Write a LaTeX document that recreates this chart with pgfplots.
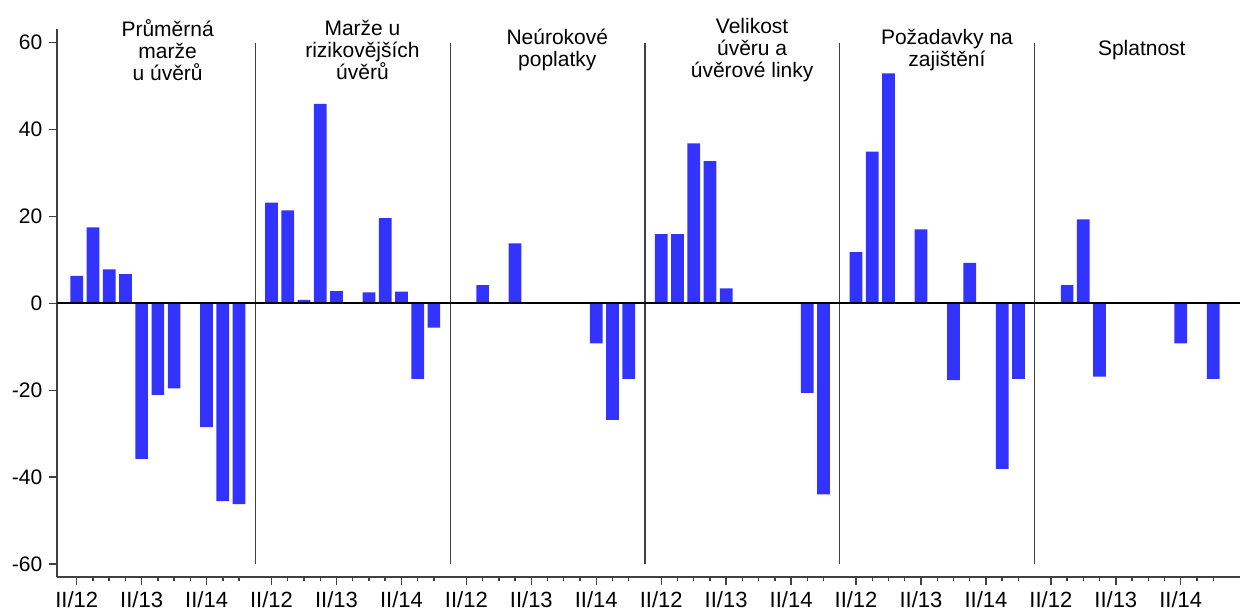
\documentclass[border=0pt]{standalone}
\usepackage{pgfplots}
\pgfplotsset{compat=1.18}
\usepackage{fontspec}
\setmainfont{Liberation Sans}
\definecolor{barblue}{RGB}{51,51,255}
\definecolor{axgray}{RGB}{64,64,64}
\begin{document}
\begin{tikzpicture}
\path[use as bounding box] (-28.65pt,-17.65pt) rectangle (591.35pt,288.35pt);
\begin{axis}[
  at={(0,0)}, anchor=south west,
  scale only axis, width=591.35pt, height=273.7pt,
  xmin=-1.195, xmax=71.65, ymin=-62.92, ymax=63.06,
  axis x line*=bottom, axis y line*=left,
  axis line style={axgray, line width=0.9pt},
  tick align=outside,
  tick style={axgray, line width=0.7pt},
  major tick length=4pt, minor tick length=2.2pt,
  ytick={-60,-40,...,60},
  xtick={0,4,8,12,16,20,24,28,32,36,40,44,48,52,56,60,64,68},
  xticklabels={II/12,II/13,II/14,II/12,II/13,II/14,II/12,II/13,II/14,II/12,II/13,II/14,II/12,II/13,II/14,II/12,II/13,II/14},
  minor xtick={1,2,3,5,6,7,9,10,13,14,15,17,18,19,21,22,25,26,27,29,30,31,33,34,37,38,39,41,42,43,45,46,49,50,51,53,54,55,57,58,61,62,63,65,66,67,69,70},
  /pgf/number format/assume math mode=true,
  yticklabel style={font=\fontsize{10.5}{12}\selectfont},
  xticklabel style={font=\fontsize{11}{13}\selectfont},
  clip=false,
]
% separators
\foreach \s in {11,23,35,47,59}{
  \edef\tmp{\noexpand\draw[axgray, line width=0.6pt] (axis cs:\s,-60) -- (axis cs:\s,60);}
  \tmp
}
\addplot[ybar, bar width=6.35pt, bar shift=0pt, fill=barblue, draw=none] coordinates {
(0,6.3) (1,17.5) (2,7.8) (3,6.7) (4,-35.8) (5,-21.1) (6,-19.6) (8,-28.5) (9,-45.5) (10,-46.2)
(12,23.2) (13,21.4) (14,0.8) (15,45.9) (16,2.8) (18,2.5) (19,19.6) (20,2.7) (21,-17.4) (22,-5.6)
(25,4.2) (27,13.8) (32,-9.2) (33,-26.8) (34,-17.4)
(36,15.9) (37,15.9) (38,36.8) (39,32.7) (40,3.45) (45,-20.6) (46,-44.0)
(48,11.8) (49,34.9) (50,52.9) (52,17.0) (54,-17.7) (55,9.3) (57,-38.1) (58,-17.4)
(61,4.2) (62,19.3) (63,-16.9) (68,-9.2) (70,-17.4)
};
\draw[black, line width=0.9pt] (axis cs:-1.195,0) -- (axis cs:71.65,0);
\begin{scope}[every node/.style={align=center, font=\fontsize{10.5}{11}\selectfont, anchor=center}]
\node at (axis cs:5.6,58.3) {Průměrná\\marže\\u úvěrů};
\node at (axis cs:17.6,58.3) {Marže u\\rizikovějších\\úvěrů};
\node at (axis cs:29.6,58.3) {Neúrokové\\poplatky};
\node at (axis cs:41.6,58.3) {Velikost\\úvěru a\\úvěrové linky};
\node at (axis cs:53.6,58.3) {Požadavky na\\zajištění};
\node at (axis cs:65.6,58.3) {Splatnost};
\end{scope}
\end{axis}
\end{tikzpicture}
\end{document}
